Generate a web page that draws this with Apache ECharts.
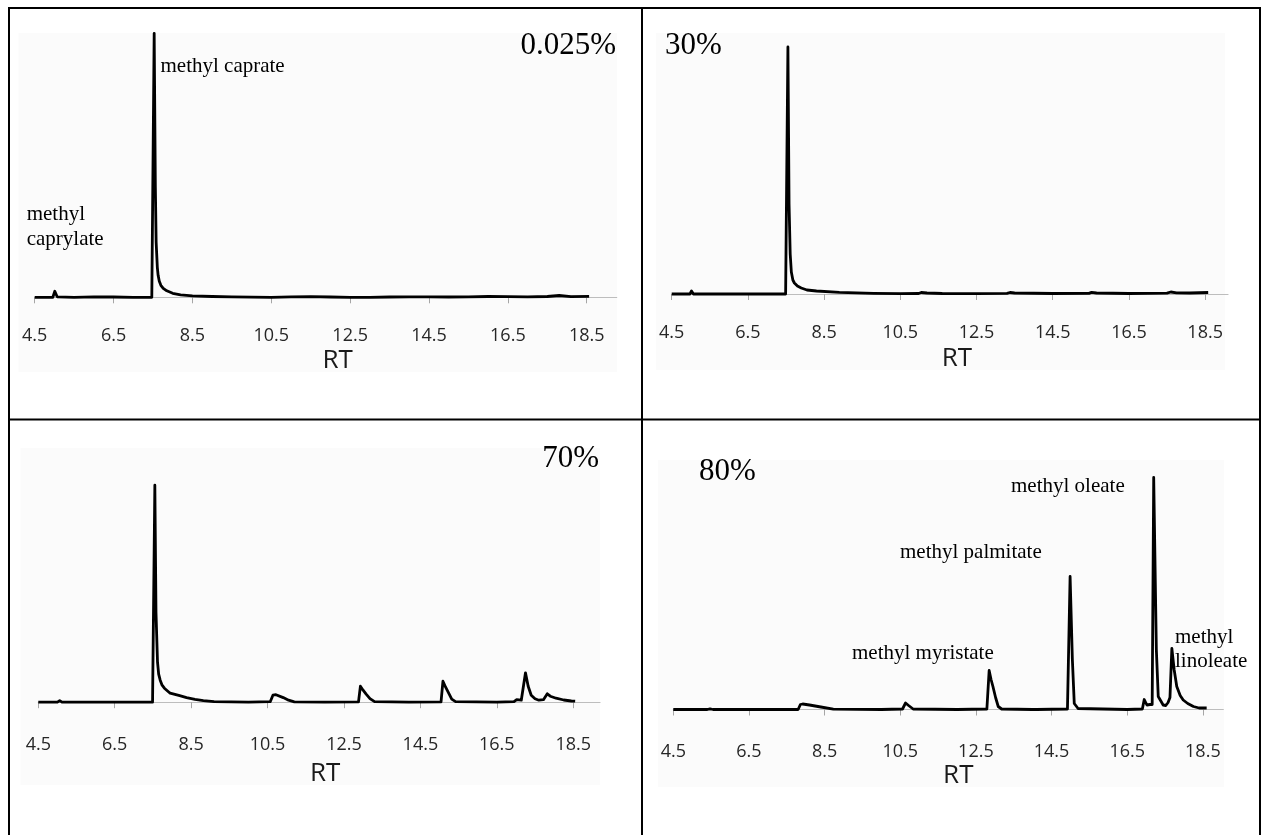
<!DOCTYPE html>
<html>
<head>
<meta charset="utf-8">
<script src="https://cdn.jsdelivr.net/npm/echarts@6/dist/echarts.min.js"></script>
<style>
  html, body { margin: 0; padding: 0; background: #fff; }
  #chart { width: 1261px; height: 835px; }
</style>
</head>
<body>
<div id="chart"></div>
<script>
// tick labels shared by all four chromatograms (retention time, min)
const rtTicks = [4.5, 6.5, 8.5, 10.5, 12.5, 14.5, 16.5, 18.5];

// 0.025 %
const rt0025 = [4.5, 4.96, 5.01, 5.07, 5.5, 6.0, 6.5, 7.0, 7.47, 7.53, 7.56, 7.58, 7.61, 7.63, 7.66, 7.7, 7.76, 7.85, 8.0, 8.2, 8.5, 9.0, 9.5, 10.0, 10.5, 11.0, 11.5, 12.0, 12.5, 13.0, 13.5, 14.0, 14.5, 15.0, 15.5, 16.0, 16.5, 17.0, 17.5, 17.8, 18.1, 18.56];
const sig0025 = [0, 0, 6, 0.5, 0, 0.4, 0.3, 0, 0, 264, 110, 55, 30, 22, 16, 12, 9, 6.5, 4, 2.5, 1.5, 0.8, 0.5, 0.2, 0, 0.4, 0.6, 0.3, 0, 0, 0.3, 0.4, 0.5, 0.3, 0.4, 0.8, 0.6, 0.5, 0.8, 1.8, 0.6, 1];

// 30 %
const rt30 = [4.5, 4.98, 5.02, 5.07, 6.0, 7.0, 7.49, 7.55, 7.58, 7.61, 7.64, 7.68, 7.72, 7.8, 7.9, 8.05, 8.3, 8.9, 9.8, 10.5, 10.98, 11.05, 11.2, 11.6, 12.5, 13.3, 13.38, 13.5, 14.5, 15.45, 15.52, 15.65, 16.5, 17.5, 17.6, 17.75, 18.1, 18.58];
const sig30 = [0, 0, 3, 0, 0, 0, 0, 247, 90, 40, 22, 14, 11, 8, 6, 4, 3, 1.7, 0.7, 0.3, 0.5, 1.5, 1, 0.5, 0.4, 0.6, 1.5, 1, 0.5, 0.6, 1.6, 1, 0.5, 0.8, 2, 1.2, 1, 1.5];

// 70 %
const rt70 = [4.5, 5.0, 5.06, 5.12, 6.5, 7.49, 7.55, 7.58, 7.62, 7.65, 7.69, 7.74, 7.8, 7.95, 8.2, 8.38, 8.6, 8.82, 9.1, 10.0, 10.57, 10.64, 10.72, 10.91, 11.05, 11.2, 12.0, 12.88, 12.93, 13.0, 13.08, 13.18, 13.3, 14.2, 15.04, 15.09, 15.16, 15.24, 15.32, 15.42, 16.5, 16.95, 17.02, 17.14, 17.19, 17.25, 17.32, 17.4, 17.5, 17.6, 17.72, 17.82, 17.9, 18.05, 18.25, 18.45, 18.55];
const sig70 = [0, 0, 1.5, 0, 0, 0, 217, 90, 40, 28, 22, 17, 14, 9, 6.5, 4.6, 2.8, 1.6, 0.5, 0, 0.5, 7, 7.5, 4.6, 2, 0.3, 0, 0.3, 16, 12, 8, 3.5, 0.5, 0, 0.3, 21, 15, 9, 3, 0.5, 0, 0.5, 2.5, 2, 1.5, 29.4, 16, 7, 3.5, 2, 2.5, 8.4, 6, 4, 2.2, 1.2, 1];

// 80 %
const rt80 = [4.5, 5.4, 5.47, 5.55, 7.0, 7.8, 7.86, 7.92, 8.1, 8.4, 8.73, 10.0, 10.56, 10.64, 10.72, 10.84, 12.0, 12.79, 12.85, 12.9, 12.95, 13.02, 13.09, 13.18, 14.0, 14.05, 14.1, 14.92, 14.99, 15.05, 15.1, 15.2, 16.5, 16.9, 16.95, 17.02, 17.1, 17.16, 17.2, 17.27, 17.32, 17.45, 17.52, 17.58, 17.63, 17.68, 17.74, 17.81, 17.9, 17.98, 18.1, 18.25, 18.4, 18.6];
const sig80 = [0, 0, 0.6, 0, 0, 0, 5, 5.5, 4.5, 2.5, 0.3, 0, 0.5, 6.5, 4, 0.5, 0, 0.5, 39, 30, 23, 12, 3, 0.5, 0, 1.5, 0, 0.5, 133, 50, 6, 1, 0, 0.5, 10, 4.5, 5, 5, 232, 60, 13, 4.5, 4, 7, 12, 61, 40, 23, 14, 9.5, 6, 3, 1.5, 1.5];

const traces = [
  [rt0025, sig0025],
  [rt30, sig30],
  [rt70, sig70],
  [rt80, sig80],
];

// where each chromatogram sits in its table cell
const panels = [
  { grid: { left: 34.7, right: 644.3, top: 33, bottom: 531.7 }, xMax: 19.26, yMin: -6, yMax: 264.3, nameGap: 44, nameShift: 12, bg: [18.5, 33, 598.5, 339] },
  { grid: { left: 671.7, right: 33, top: 40, bottom: 535 }, xMax: 19.1, yMin: -6, yMax: 254, nameGap: 46, nameShift: 7, bg: [656, 33, 569, 337] },
  { grid: { left: 38.3, right: 661, top: 448, bottom: 123.3 }, xMax: 19.2, yMin: -9.5, yMax: 254.2, nameGap: 49, nameShift: 6, bg: [20.6, 448, 579.4, 337] },
  { grid: { left: 673.3, right: 37.7, top: 460, bottom: 116.5 }, xMax: 19.04, yMin: -9, yMax: 249.5, nameGap: 44, nameShift: 10, bg: [658, 460, 566, 327] },
];

const serif = "'Liberation Serif', 'Times New Roman', serif";
const sans = "'Open Sans', 'DejaVu Sans', sans-serif";

const textEl = (text, x, y, size, align) => ({
  type: "text",
  x,
  y,
  z: 10,
  silent: true,
  style: {
    text,
    fill: "#000",
    font: `${size}px ${serif}`,
    align: align || "left",
    verticalAlign: "middle",
  },
});

const lineEl = (x1, y1, x2, y2) => ({
  type: "line",
  z: 10,
  silent: true,
  shape: { x1, y1, x2, y2 },
  style: { stroke: "#000", lineWidth: 2 },
});

const graphic = [
  ...panels.map((p) => ({
    type: "rect",
    z: -5,
    silent: true,
    shape: { x: p.bg[0], y: p.bg[1], width: p.bg[2], height: p.bg[3] },
    style: { fill: "#fbfbfb" },
  })),
  // table rules
  lineEl(8, 8, 1261, 8),
  lineEl(9, 7, 9, 835),
  lineEl(642, 7, 642, 835),
  lineEl(8, 419.5, 1261, 419.5),
  lineEl(1260, 7, 1260, 835),
  // concentration tags
  textEl("0.025%", 616, 46, 31, "right"),
  textEl("30%", 665, 46, 31),
  textEl("70%", 599, 459, 31, "right"),
  textEl("80%", 699, 472, 31),
  // peak names
  textEl("methyl caprate", 160.5, 66, 21),
  textEl("methyl", 26.7, 214, 21),
  textEl("caprylate", 26.7, 239, 21),
  textEl("methyl oleate", 1011, 486, 21),
  textEl("methyl palmitate", 900, 552, 21),
  textEl("methyl myristate", 852, 653, 21),
  textEl("methyl", 1175, 637, 21),
  textEl("linoleate", 1175, 661, 21),
];

const option = {
  animation: false,
  backgroundColor: "#ffffff",
  grid: panels.map((p) => ({ ...p.grid, containLabel: false, outerBoundsMode: "none" })),
  xAxis: panels.map((p, i) => ({
    type: "value",
    gridIndex: i,
    min: 4.5,
    max: p.xMax,
    name: "RT",
    nameLocation: "middle",
    nameGap: p.nameGap,
    nameTextStyle: {
      fontFamily: sans,
      fontSize: 26,
      color: "#1a1a1a",
      padding: [0, 0, 0, p.nameShift * 2],
    },
    axisLine: { lineStyle: { color: "#bdbdbd", width: 1.2 } },
    axisTick: {
      customValues: rtTicks,
      length: 6,
      lineStyle: { color: "#a6a6a6" },
    },
    axisLabel: {
      customValues: rtTicks,
      margin: 24,
      fontFamily: sans,
      fontSize: 18,
      color: "#262626",
      formatter: (v) => String(v),
    },
    splitLine: { show: false },
  })),
  yAxis: panels.map((p, i) => ({
    type: "value",
    gridIndex: i,
    min: p.yMin,
    max: p.yMax,
    show: false,
    splitLine: { show: false },
  })),
  series: traces.map(([rt, sig], i) => ({
    type: "line",
    xAxisIndex: i,
    yAxisIndex: i,
    data: rt.map((x, k) => [x, sig[k]]),
    showSymbol: false,
    smooth: false,
    clip: true,
    lineStyle: { color: "#000", width: 2.8, join: "round" },
  })),
  graphic,
};

const chart = echarts.init(document.getElementById("chart"), null, { renderer: "canvas" });
chart.setOption(option);
</script>
</body>
</html>
